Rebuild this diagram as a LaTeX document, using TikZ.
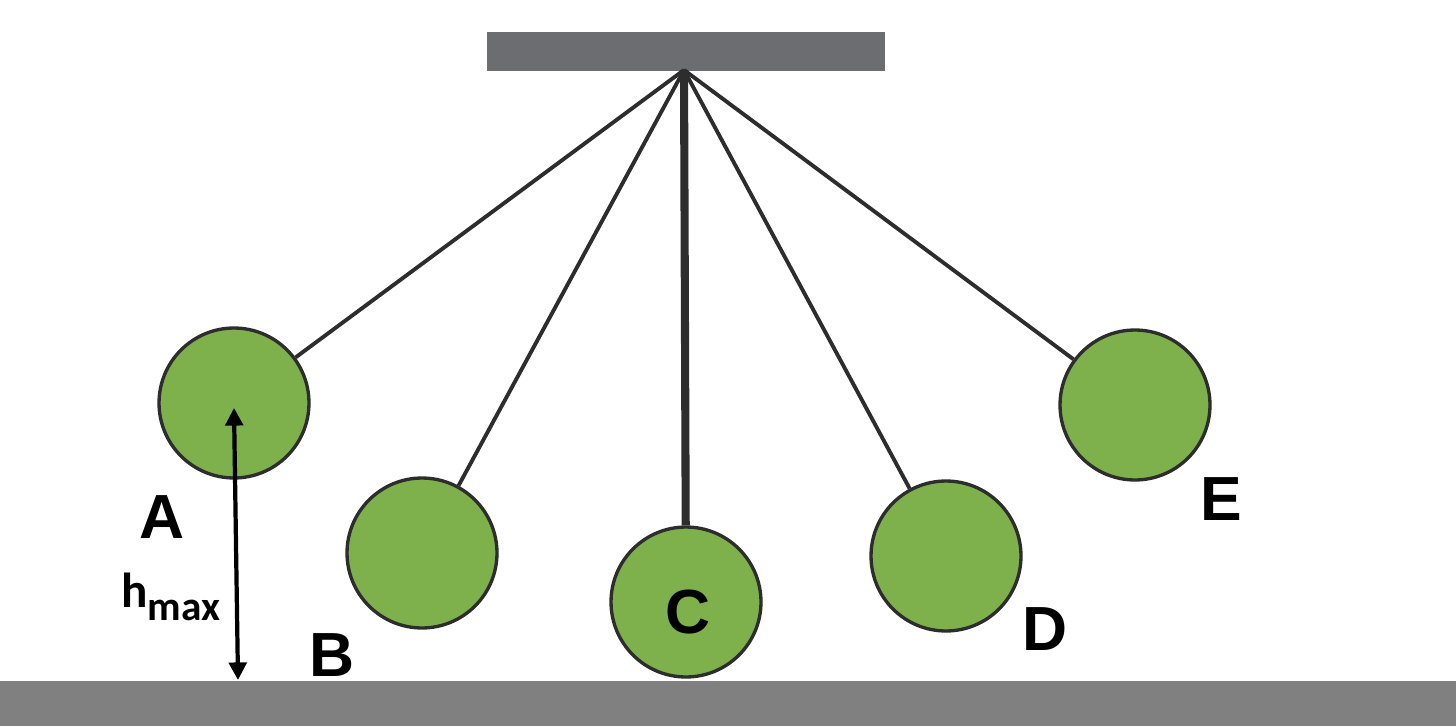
\documentclass[tikz,border=0pt]{standalone}
\usepackage{fontspec}
\newfontfamily\lblfont{Liberation Sans}
\newfontfamily\hfam{Carlito}
\usetikzlibrary{arrows.meta}
\definecolor{ballgreen}{RGB}{126,176,76}
\definecolor{edgegray}{RGB}{45,45,45}
\definecolor{bargray}{RGB}{108,109,113}
\definecolor{groundgray}{RGB}{128,128,128}
\begin{document}
\begin{tikzpicture}[x=0.02cm,y=-0.02cm,
  ball/.style={circle,draw=edgegray,line width=1.9pt,fill=ballgreen,minimum size=3cm,inner sep=0pt},
  stringline/.style={draw=edgegray,line width=2.2pt},
  thickstring/.style={draw=edgegray,line width=4.6pt},
  lbl/.style={inner sep=0pt,anchor=base,font=\lblfont\bfseries\fontsize{35.5}{36}\selectfont},
  hlbl/.style={inner sep=0pt,anchor=base west,font=\hfam\bfseries\fontsize{28}{29}\selectfont}]
\useasboundingbox (0,0) rectangle (1456,726);
% ground
\fill[groundgray] (0,681) rectangle (1456,726);
% bar
\node[fill=bargray,minimum width=7.96cm,minimum height=0.78cm,inner sep=0pt] (bar) at (686,51.5) {};
\coordinate (pivot) at (684,70);
% balls
\node[ball] (A) at (234,403) {};
\node[ball] (B) at (422,553) {};
\node[ball] (C) at (686,602) {};
\node[ball] (D) at (946,556) {};
\node[ball] (E) at (1135,405) {};
% strings
\draw[stringline] (pivot) -- (A);
\draw[stringline] (pivot) -- (B);
\draw[thickstring] (pivot) -- (C);
\draw[stringline] (pivot) -- (D);
\draw[stringline] (pivot) -- (E);
% labels
\node[lbl] (la) at (162,538) {A};
\node[lbl] (lb) at (332,676) {B};
\node[lbl] (lc) at (688,633) {C};
\node[lbl] (ld) at (1045,650) {D};
\node[lbl] (le) at (1221,520) {E};
\node[hlbl] (hm) at (121,607) {h\raisebox{-7.4pt}{\fontsize{23.5}{24}\selectfont max}};
% height arrow
\coordinate (atop) at (234,408);
\coordinate (abot) at (238,680);
\draw[line width=2.4pt,{Triangle[length=10pt,width=10pt]}-{Triangle[length=10pt,width=10pt]}] (atop) -- (abot);
\end{tikzpicture}
\end{document}
